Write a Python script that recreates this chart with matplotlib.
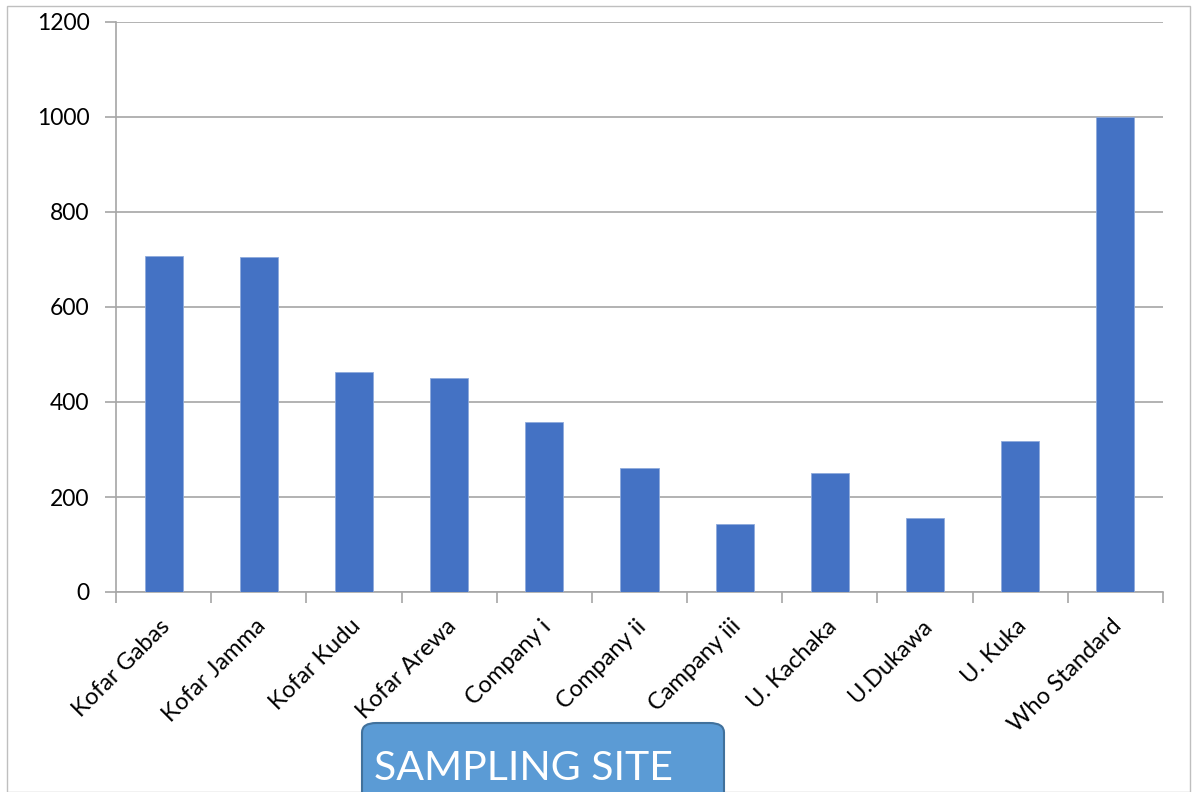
import matplotlib
matplotlib.use("Agg")
import matplotlib.pyplot as plt
from matplotlib.patches import FancyBboxPatch, Rectangle

plt.rcParams['font.family'] = ['Lato', 'DejaVu Sans']

sites = ["Kofar Gabas", "Kofar Jamma", "Kofar Kudu", "Kofar Arewa", "Company i",
         "Company ii", "Campany iii", "U. Kachaka", "U.Dukawa", "U. Kuka", "Who Standard"]
values = [707, 705, 463, 450, 358, 261, 143, 250, 156, 318, 1000]
y_ticks = [0, 200, 400, 600, 800, 1000, 1200]

W, H = 1192, 792
fig = plt.figure(figsize=(W / 100, H / 100), dpi=100)

# outer chart frame
fig.patches.append(Rectangle((7 / W, 0), (1190 - 7) / W, (H - 6) / H,
                             transform=fig.transFigure, fill=False,
                             edgecolor="#BFBFBF", linewidth=1.0))

ax = fig.add_axes([116 / W, (H - 592) / H, (1163 - 116) / W, (592 - 22) / H])
x = range(len(sites))
ax.bar(x, values, width=0.4, color="#4472C4", edgecolor="#8FAADC", linewidth=0.6, zorder=3)

ax.set_xlim(-0.5, len(sites) - 0.5)
ax.set_ylim(0, 1200)
ax.set_yticks(y_ticks)
ax.set_yticklabels([str(v) for v in y_ticks], fontsize=16.5)
ax.grid(axis="y", color="#A6A6A6", linewidth=1.2, zorder=0)
ax.tick_params(axis="y", length=8, width=1.2, color="#A6A6A6", pad=11)

# category boundary ticks on x axis
ax.set_xticks([i - 0.5 for i in range(len(sites) + 1)])
ax.set_xticklabels([])
ax.tick_params(axis="x", length=8, width=1.2, color="#A6A6A6")
for i, name in enumerate(sites):
    ax.annotate(name, xy=(i, 0), xycoords=("data", "axes fraction"),
                xytext=(-3, -17), textcoords="offset points",
                rotation=45, ha="right", va="top", fontsize=17,
                rotation_mode="anchor")

for side in ("top", "right"):
    ax.spines[side].set_visible(False)
for side in ("left", "bottom"):
    ax.spines[side].set_color("#A6A6A6")
    ax.spines[side].set_linewidth(1.2)

# axis title box
box = FancyBboxPatch((362 / W, -0.05), (724 - 362) / W, (H - 723) / H + 0.05,
                     boxstyle="round,pad=0,rounding_size=0.012",
                     transform=fig.transFigure, facecolor="#5B9BD5",
                     edgecolor="#41719C", linewidth=1.5, clip_on=False)
fig.patches.append(box)
fig.text(374 / W, (H - 768) / H, "SAMPLING SITE", color="white",
         fontsize=29.5, ha="left", va="center")

fig.savefig("out.png", dpi=100)
